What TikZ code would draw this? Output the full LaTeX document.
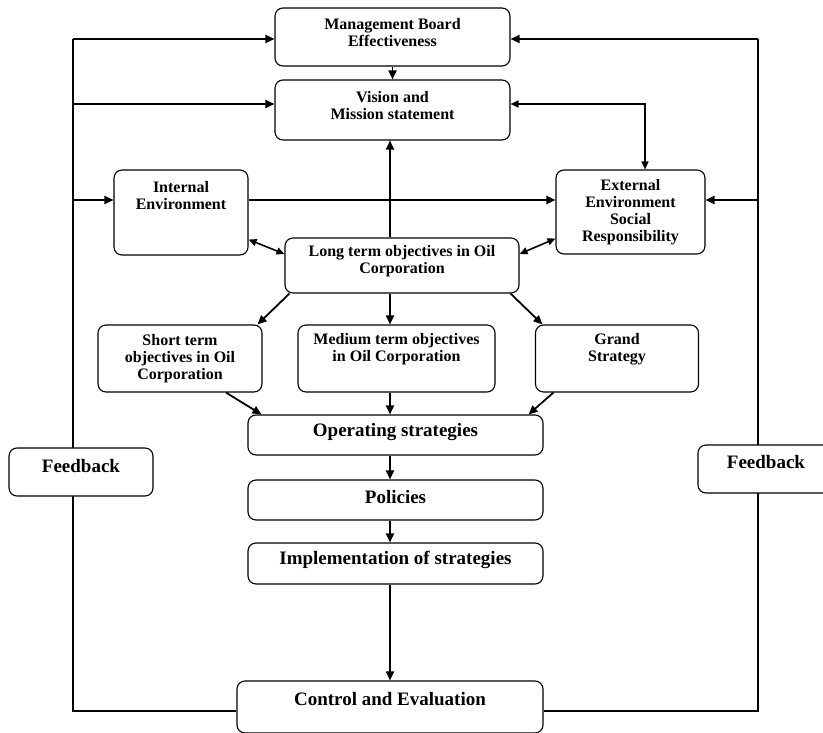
\documentclass[tikz,border=0pt]{standalone}
\usepackage{fontspec}
\setmainfont{Liberation Serif}
\usetikzlibrary{arrows.meta, positioning, calc}

\begin{document}
\begin{tikzpicture}[x=1pt, y=-1pt,
                box/.style={draw, rounded corners=8pt, line width=1.1pt, align=center, inner sep=2pt, fill=white,
                            font=\bfseries\fontsize{16}{17}\selectfont},
                bigbox/.style={box, font=\bfseries\fontsize{19}{21}\selectfont},
                arr/.style={line width=1.8pt, -{Triangle[length=9pt,width=8pt]}},
                darr/.style={line width=1.6pt, {Triangle[length=8pt,width=7pt]}-{Triangle[length=8pt,width=7pt]}},
                fbline/.style={line width=1.1pt},
            ]

                \useasboundingbox (0,0) rectangle (823,733);

                % Top boxes
                \node[box, minimum width=235pt, minimum height=58pt, text depth=10pt] (mgmt) at (392.5,37) {Management Board\\Effectiveness};
                \node[box, minimum width=235pt, minimum height=60pt, text depth=9pt] (vision) at (392.5,110) {Vision and\\Mission statement};

                % Environments
                \node[box, minimum width=134pt, minimum height=85pt, text depth=34pt] (intenv) at (181,212.5) {Internal\\Environment};
                \node[box, minimum width=149pt, minimum height=84pt] (extenv) at (630.5,212) {External\\Environment\\Social\\Responsibility};
                \node[box, minimum width=234pt, minimum height=55pt, text depth=11.5pt] (longterm) at (402,265.5) {Long term objectives in Oil\\Corporation};

                % Objectives and strategy
                \node[box, minimum width=164pt, minimum height=67pt] (short) at (180,358.5) {Short term\\objectives in Oil\\Corporation};
                \node[box, minimum width=197pt, minimum height=67pt, text depth=21.5pt] (medium) at (396.5,358.5) {Medium term objectives\\in Oil Corporation};
                \node[box, minimum width=163pt, minimum height=67pt, text depth=21.5pt] (grand) at (617,358.5) {Grand\\Strategy};

                % Chain
                \node[bigbox, minimum width=295pt, minimum height=40pt, text depth=10pt] (operating) at (395.5,435) {Operating strategies};
                \node[bigbox, minimum width=295pt, minimum height=40pt, text depth=6pt] (policies) at (395.5,500) {Policies};
                \node[bigbox, minimum width=295pt, minimum height=41pt, text depth=11pt] (implem) at (395.5,563.5) {Implementation of strategies};
                \node[bigbox, minimum width=306pt, minimum height=52pt, text depth=16pt] (control) at (390,707) {Control and Evaluation};

                % Feedback loops
                \coordinate (spine) at (390,0);
                \coordinate (ltop) at (73,39);
                \coordinate (lvis) at (73,104);
                \coordinate (lint) at (73,200);
                \coordinate (rtop) at (758,39);
                \coordinate (rext) at (758,200);
                \draw[fbline] ([yshift=-4pt]control.west) -| (ltop);
                \draw[fbline] ([yshift=-4pt]control.east) -| (rtop);
                \node[bigbox, minimum width=144pt, minimum height=48pt, text depth=12pt] (fbleft) at (81,472) {Feedback};
                \node[bigbox, minimum width=136pt, minimum height=48pt, text depth=14pt] (fbright) at (766,469) {Feedback};

                \draw[arr] (ltop) -- (ltop -| mgmt.west);
                \draw[arr] (lvis) -- (lvis -| vision.west);
                \draw[arr] (lint) -- (lint -| intenv.west);
                \draw[arr] (rtop) -- (rtop -| mgmt.east);
                \draw[arr] (rext) -- (rext -| extenv.east);

                % Top part
                \draw[arr] (mgmt) -- (vision);
                \draw[arr] (spine |- longterm.north) -- (spine |- vision.south);
                \draw[arr] (lint -| intenv.east) -- (lint -| extenv.west);
                \draw[darr] (lvis -| vision.east) -| ([xshift=14.5pt]extenv.north);
                \draw[darr] ([yshift=16pt]intenv.south east) -- ([yshift=11.5pt]longterm.west);
                \draw[darr] ([yshift=11.5pt]longterm.east) -- ([yshift=16pt]extenv.south west);

                % Objectives
                \draw[arr] ([xshift=5pt]longterm.south west) -- ([xshift=-5pt]short.north east);
                \draw[arr] (spine |- longterm.south) -- (spine |- medium.north);
                \draw[arr] ([xshift=-9pt]longterm.south east) -- ([xshift=7.5pt]grand.north west);
                \draw[arr] ([xshift=46pt]short.south) -- ([xshift=14pt]operating.north west);
                \draw[arr] (spine |- medium.south) -- (spine |- operating.north);
                \draw[arr] ([xshift=18.5pt]grand.south west) -- ([xshift=-15pt]operating.north east);

                % Chain
                \draw[arr] (spine |- operating.south) -- (spine |- policies.north);
                \draw[arr] (spine |- policies.south) -- (spine |- implem.north);
                \draw[arr] (spine |- implem.south) -- (spine |- control.north);
            \end{tikzpicture}
\end{document}
